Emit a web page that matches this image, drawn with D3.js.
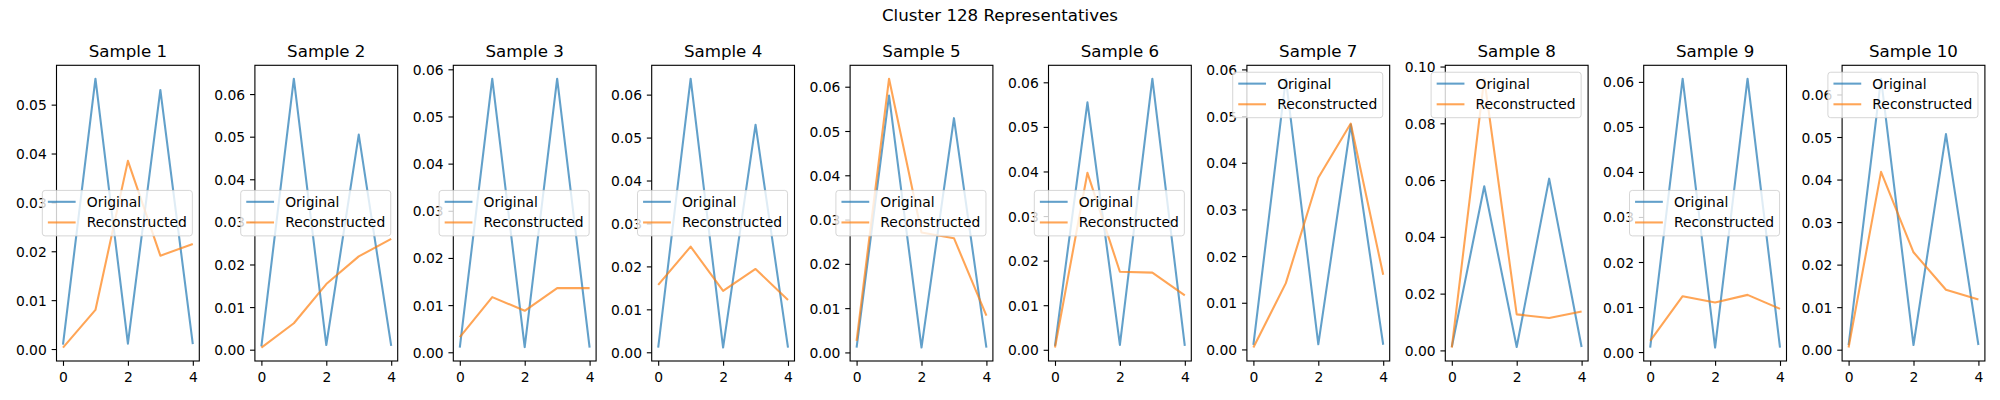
<!DOCTYPE html>
<html>
<head>
<meta charset="utf-8">
<script src="https://cdn.jsdelivr.net/npm/d3@7"></script>
<style>
  body { margin: 0; background: #fff; }
  text { font-family: "DejaVu Sans", sans-serif; fill: #000; }
</style>
</head>
<body>
<script>
// data
var titles = ["Sample 1", "Sample 2", "Sample 3", "Sample 4", "Sample 5",
              "Sample 6", "Sample 7", "Sample 8", "Sample 9", "Sample 10"];
var steps = [0, 1, 2, 3, 4];
var xTicks = [0, 2, 4];

var original = [
    [0.0009, 0.0553, 0.0011, 0.0530, 0.0010],
    [0.0008, 0.0636, 0.0011, 0.0505, 0.0009],
    [0.0010, 0.0580, 0.0011, 0.0580, 0.0010],
    [0.0011, 0.0637, 0.0011, 0.0530, 0.0011],
    [0.0011, 0.0580, 0.0011, 0.0529, 0.0011],
    [0.0009, 0.0555, 0.0011, 0.0608, 0.0009],
    [0.0010, 0.0580, 0.0011, 0.0482, 0.0010],
    [0.0012, 0.0578, 0.0012, 0.0605, 0.0012],
    [0.0010, 0.0607, 0.0010, 0.0607, 0.0010],
    [0.0011, 0.0637, 0.0011, 0.0507, 0.0011]
];
var reconstructed = [
    [0.0003, 0.0080, 0.0385, 0.0191, 0.0215],
    [0.0005, 0.0062, 0.0154, 0.0219, 0.0260],
    [0.0032, 0.0117, 0.0088, 0.0136, 0.0136],
    [0.0157, 0.0246, 0.0143, 0.0194, 0.0122],
    [0.0026, 0.0618, 0.0271, 0.0258, 0.0083],
    [0.0005, 0.0397, 0.0175, 0.0173, 0.0122],
    [0.0004, 0.0142, 0.0368, 0.0484, 0.0160],
    [0.0010, 0.0957, 0.0127, 0.0114, 0.0137],
    [0.0025, 0.0124, 0.0110, 0.0127, 0.0096],
    [0.0005, 0.0418, 0.0229, 0.0141, 0.0118]
];
var seriesNames = ["Original", "Reconstructed"];

// where "best" put each legend
var legendLoc = ["center right", "center right", "center right", "center right", "center right",
                 "center right", "upper right", "upper right", "center right", "upper right"];

function init(){

    var w = 2000;
    var h = 400;
    var colors = ["#1f77b4", "#ff7f0e"];
    var fs = 13.89;        // 10pt
    var titleFs = 16.67;   // 12pt

    var axW = 142.8, axH = 295.7, axTop = 65.3;

    var svg = d3.select("body")
                .append("svg")
                .attr("width", w)
                .attr("height", h);

    svg.append("text")
        .attr("x", w / 2)
        .attr("y", 20.7)
        .attr("text-anchor", "middle")
        .attr("font-size", titleFs)
        .text("Cluster 128 Representatives");

    titles.forEach(function(title, i){
        var g = svg.append("g")
            .attr("transform", "translate(" + (56.5 + i * 198.4) + "," + axTop + ")");

        // autoscale with 5% margins like matplotlib
        var xe = d3.extent(steps), xp = (xe[1] - xe[0]) * 0.05;
        var all = original[i].concat(reconstructed[i]);
        var ye = d3.extent(all), yp = (ye[1] - ye[0]) * 0.05;

        var x = d3.scaleLinear().domain([xe[0] - xp, xe[1] + xp]).range([0, axW]);
        var y = d3.scaleLinear().domain([ye[0] - yp, ye[1] + yp]).range([axH, 0]);

        //axes
        var yAxis = g.append("g")
            .call(d3.axisLeft(y).ticks(6).tickFormat(d3.format(".2f"))
                  .tickSize(4.86).tickPadding(4.86).tickSizeOuter(0));
        var xAxis = g.append("g")
            .attr("transform", "translate(0," + axH + ")")
            .call(d3.axisBottom(x).tickValues(xTicks).tickFormat(d3.format("d"))
                  .tickSize(4.86).tickPadding(4.86).tickSizeOuter(0));

        [yAxis, xAxis].forEach(function(a){
            a.select(".domain").remove();
            a.attr("font-family", null).attr("font-size", null);
            a.selectAll("line").attr("stroke", "#000").attr("stroke-width", 1.11);
            a.selectAll("text").attr("font-size", fs);
        });
        xAxis.selectAll("text").attr("dy", "0.83em");
        yAxis.selectAll("text").attr("dy", "0.36em");

        //lines
        var line = d3.line()
            .x(function(d, j){ return x(steps[j]); })
            .y(function(d){ return y(d); });

        [original[i], reconstructed[i]].forEach(function(s, k){
            g.append("path")
                .attr("d", line(s))
                .attr("fill", "none")
                .attr("stroke", colors[k])
                .attr("stroke-opacity", 0.7)
                .attr("stroke-width", 2.08)
                .attr("stroke-linejoin", "round");
        });

        //spines
        g.append("rect")
            .attr("width", axW)
            .attr("height", axH)
            .attr("fill", "none")
            .attr("stroke", "#000")
            .attr("stroke-width", 1.11);

        g.append("text")
            .attr("x", axW / 2)
            .attr("y", -8.1)
            .attr("text-anchor", "middle")
            .attr("font-size", titleFs)
            .text(title);

        //legend
        var bp = 0.4 * fs, hl = 2 * fs, htp = 0.8 * fs, ls = 0.5 * fs, bap = 0.5 * fs, rh = 13.7;
        var leg = g.append("g");
        var frame = leg.append("rect");
        var tw = 0;
        var texts = seriesNames.map(function(name){
            var t = leg.append("text").attr("font-size", fs).text(name);
            tw = Math.max(tw, t.node().getComputedTextLength());
            return t;
        });
        var boxW = 2 * bp + hl + htp + tw;
        var boxH = 2 * bp + 2 * rh + ls;
        var bx = axW - bap - boxW;
        var by = legendLoc[i] === "upper right" ? bap : (axH - boxH) / 2;

        frame.attr("x", bx).attr("y", by)
            .attr("width", boxW).attr("height", boxH)
            .attr("rx", 2.8).attr("ry", 2.8)
            .attr("fill", "#fff").attr("fill-opacity", 0.8)
            .attr("stroke", "#cccccc").attr("stroke-opacity", 0.8)
            .attr("stroke-width", 1);

        seriesNames.forEach(function(name, k){
            var ry = by + bp + 0.42 * fs + k * (rh + ls);
            leg.append("line")
                .attr("x1", bx + bp).attr("x2", bx + bp + hl)
                .attr("y1", ry).attr("y2", ry)
                .attr("stroke", colors[k])
                .attr("stroke-opacity", 0.7)
                .attr("stroke-width", 2.08);
            texts[k].attr("x", bx + bp + hl + htp).attr("y", ry + 0.36 * fs);
        });
    });
}
window.onload = init;
</script>
</body>
</html>
